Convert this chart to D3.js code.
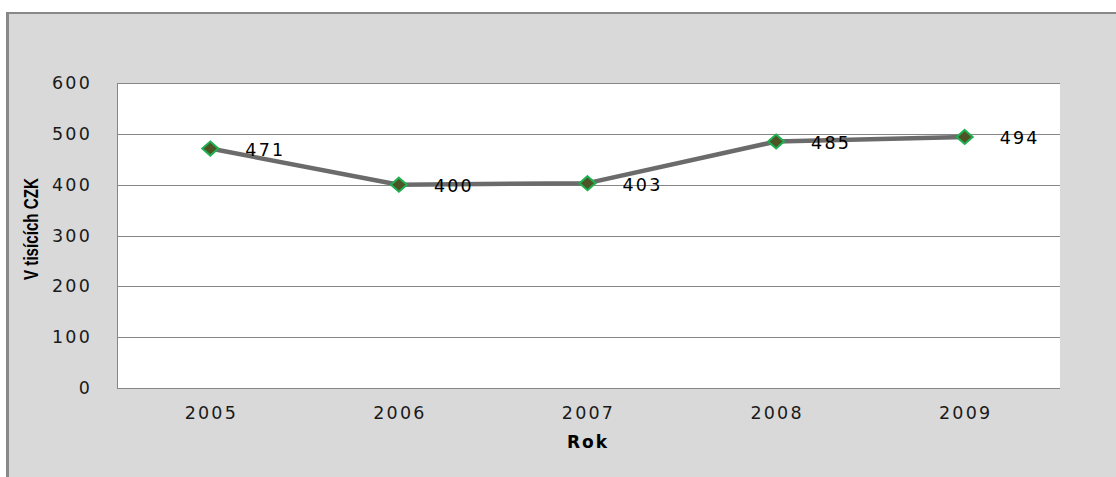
<!DOCTYPE html>
<html>
<head>
<meta charset="utf-8">
<script src="https://cdn.jsdelivr.net/npm/d3@7"></script>
<style>
  body { margin: 0; background: #fff; }
  svg { display: block; }
</style>
</head>
<body>
<script>
// data
var years = ["2005", "2006", "2007", "2008", "2009"];
var values = [471, 400, 403, 485, 494];
var yTicks = [0, 100, 200, 300, 400, 500, 600];

var W = 1116, H = 477;
var plot = {left: 117, right: 1060, top: 83, bottom: 388};
var font = "DejaVu Sans, Verdana, sans-serif";

var svg = d3.select("body").append("svg")
    .attr("width", W)
    .attr("height", H);

// chart background + outer border (right/bottom edges are cut off)
svg.append("rect")
    .attr("x", 0).attr("y", 0)
    .attr("width", W).attr("height", H)
    .attr("fill", "#fff");
svg.append("rect")
    .attr("x", 7).attr("y", 13)
    .attr("width", W).attr("height", H)
    .attr("fill", "#d9d9d9");
svg.append("line")
    .attr("x1", 7.5).attr("x2", 7.5).attr("y1", 12).attr("y2", H)
    .attr("stroke", "#888").attr("stroke-width", 3);
svg.append("line")
    .attr("x1", 6).attr("x2", W).attr("y1", 13).attr("y2", 13)
    .attr("stroke", "#888").attr("stroke-width", 2);

/*Scales*/
var xScale = d3.scaleBand()
    .domain(years)
    .range([plot.left, plot.right]);
var yScale = d3.scaleLinear()
    .domain([0, 600])
    .range([plot.bottom, plot.top]);

// plot area
svg.append("rect")
    .attr("x", plot.left).attr("y", plot.top)
    .attr("width", plot.right - plot.left)
    .attr("height", plot.bottom - plot.top)
    .attr("fill", "#fff");

// gridlines
svg.append("g")
    .selectAll("line")
    .data(yTicks)
    .enter().append("line")
    .attr("x1", plot.left)
    .attr("x2", plot.right)
    .attr("y1", function(d) { return Math.round(yScale(d)) + 0.5; })
    .attr("y2", function(d) { return Math.round(yScale(d)) + 0.5; })
    .attr("stroke", "#868686");

// left axis line
svg.append("line")
    .attr("x1", plot.left + 0.5).attr("x2", plot.left + 0.5)
    .attr("y1", plot.top).attr("y2", plot.bottom + 1)
    .attr("stroke", "#868686");

/*Axes labels*/
var yAxis = d3.axisLeft(yScale)
    .tickValues(yTicks)
    .tickSize(0)
    .tickPadding(25);
var gy = svg.append("g")
    .attr("transform", "translate(" + plot.left + ",0)")
    .call(yAxis);
gy.select(".domain").remove();
gy.selectAll("text")
    .attr("font-family", font)
    .attr("font-size", 17.5)
    .attr("letter-spacing", 2.2)
    .attr("fill", "#1a1a1a");

var xAxis = d3.axisBottom(xScale)
    .tickSize(0)
    .tickPadding(19);
var gx = svg.append("g")
    .attr("transform", "translate(0," + plot.bottom + ")")
    .call(xAxis);
gx.select(".domain").remove();
gx.selectAll("text")
    .attr("font-family", font)
    .attr("font-size", 17.5)
    .attr("letter-spacing", 2.2)
    .attr("fill", "#1a1a1a");

// axis titles
svg.append("text")
    .attr("transform", "translate(38,229) rotate(-90)")
    .attr("text-anchor", "middle")
    .attr("font-family", "Liberation Sans Narrow, Liberation Sans, Arial, sans-serif")
    .attr("font-weight", "bold")
    .attr("font-size", 21)
    .attr("textLength", 102)
    .attr("lengthAdjust", "spacingAndGlyphs")
    .attr("fill", "#000")
    .text("V tisících CZK");

svg.append("text")
    .attr("x", 588)
    .attr("y", 448)
    .attr("text-anchor", "middle")
    .attr("font-family", font)
    .attr("font-weight", "bold")
    .attr("font-size", 17)
    .attr("letter-spacing", 2)
    .attr("fill", "#000")
    .text("Rok");

// series line
var pts = years.map(function(y, i) { return [xScale(y) + xScale.bandwidth() / 2 - 1, yScale(values[i])]; });
var line = d3.line();
svg.append("path")
    .attr("d", line(pts))
    .attr("fill", "none")
    .attr("stroke", "#6b6b6b")
    .attr("stroke-width", 4.5)
    .attr("stroke-linejoin", "round");

// diamond markers
svg.append("g")
    .selectAll("path")
    .data(pts)
    .enter().append("path")
    .attr("transform", function(d) { return "translate(" + d[0] + "," + d[1] + ")"; })
    .attr("d", "M0,-7 L8,0 L0,7 L-8,0 Z")
    .attr("fill", "#4f5427")
    .attr("stroke", "#1fb050")
    .attr("stroke-width", 2);

// data labels
svg.append("g")
    .selectAll("text")
    .data(pts)
    .enter().append("text")
    .attr("x", function(d) { return d[0] + 35; })
    .attr("y", function(d) { return d[1] + 7.5; })
    .attr("font-family", font)
    .attr("font-size", 17.5)
    .attr("letter-spacing", 2.2)
    .attr("fill", "#000")
    .text(function(d, i) { return values[i]; });
</script>
</body>
</html>
